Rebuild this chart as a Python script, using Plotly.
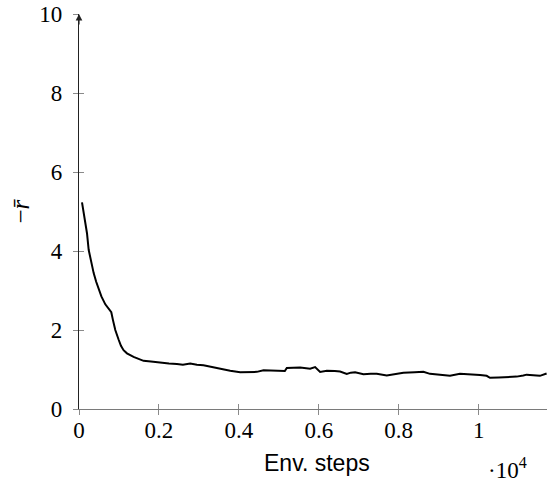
import plotly.graph_objects as go

steps = [75, 120, 158, 200, 242, 300, 367, 430, 492, 560, 658, 740, 808, 850, 908, 990,
         1050, 1115, 1200, 1365, 1615, 1800, 2033, 2250, 2450, 2600, 2783, 2950, 3115,
         3300, 3450, 3600, 3783, 4033, 4283, 4450, 4617, 4800, 5033, 5150, 5200, 5400,
         5533, 5783, 5908, 6033, 6200, 6400, 6533, 6700, 6800, 6908, 7000, 7117, 7300,
         7450, 7700, 7867, 7950, 8117, 8400, 8617, 8783, 9000, 9283, 9533, 9800, 10033,
         10200, 10283, 10500, 10700, 10950, 11117, 11200, 11450, 11533, 11700]
neg_reward = [5.23, 4.95, 4.70, 4.45, 4.03, 3.75, 3.44, 3.22, 3.03, 2.85, 2.65, 2.55, 2.45,
              2.25, 2.00, 1.76, 1.60, 1.49, 1.41, 1.32, 1.22, 1.20, 1.17, 1.15, 1.14, 1.12,
              1.15, 1.12, 1.11, 1.07, 1.03, 1.00, 0.97, 0.93, 0.94, 0.94, 0.98, 0.97, 0.97,
              0.96, 1.04, 1.04, 1.05, 1.02, 1.06, 0.94, 0.97, 0.96, 0.95, 0.89, 0.92, 0.93,
              0.90, 0.88, 0.89, 0.89, 0.85, 0.88, 0.90, 0.92, 0.93, 0.94, 0.89, 0.87, 0.84,
              0.89, 0.88, 0.86, 0.84, 0.79, 0.80, 0.81, 0.82, 0.85, 0.87, 0.85, 0.84, 0.90]

x_tickvals = [0, 2000, 4000, 6000, 8000, 10000]
x_ticktext = ["0", "0.2", "0.4", "0.6", "0.8", "1"]
y_tickvals = [0, 2, 4, 6, 8, 10]
y_ticktext = ["0", "2", "4", "6", "8", "10"]

serif = "'Liberation Serif', 'DejaVu Serif', serif"
sans = "'Liberation Sans', 'DejaVu Sans', sans-serif"
tickcol = "#8a8a8a"

fig = go.Figure()
fig.add_trace(go.Scatter(x=steps, y=neg_reward, mode="lines",
                         line=dict(color="black", width=2), showlegend=False,
                         hoverinfo="skip"))
fig.add_trace(go.Scatter(x=[None], y=[None], xaxis="x2", yaxis="y2",
                         showlegend=False, hoverinfo="skip"))

xr = [0, 11710]
yr = [0, 10]
L, R, T, B = 79, 0, 14, 77
ph = 486 - T - B
pw = 547 - L - R
fig.update_layout(
    width=547, height=486,
    margin=dict(l=L, r=R, t=T, b=B),
    paper_bgcolor="white", plot_bgcolor="white",
    xaxis=dict(range=xr, tickvals=x_tickvals, ticktext=x_ticktext,
               showgrid=False, zeroline=False, showline=True,
               linecolor="#7a7a7a", linewidth=1.2,
               ticks="inside", ticklen=5, tickcolor=tickcol, tickwidth=1,
               tickfont=dict(family=serif, size=23, color="black")),
    yaxis=dict(range=yr, tickvals=y_tickvals, ticktext=y_ticktext,
               showgrid=False, zeroline=False, showline=True,
               linecolor="#222222", linewidth=1.2,
               ticks="outside", ticklen=5, tickcolor=tickcol, tickwidth=1,
               ticklabelstandoff=6,
               tickfont=dict(family=serif, size=23, color="black")),
    xaxis2=dict(range=xr, overlaying="x", tickvals=x_tickvals, showticklabels=False,
                showgrid=False, zeroline=False, showline=False,
                ticks="outside", ticklen=5, tickcolor=tickcol, tickwidth=1),
    yaxis2=dict(range=yr, overlaying="y", tickvals=y_tickvals[1:], showticklabels=False,
                showgrid=False, zeroline=False, showline=False,
                ticks="inside", ticklen=5, tickcolor=tickcol, tickwidth=1),
    annotations=[
        dict(x=0, y=10, xref="x", yref="y", ax=0, ay=12, axref="pixel", ayref="pixel",
             showarrow=True, arrowhead=2, arrowsize=1.1, arrowwidth=1.2,
             arrowcolor="#222222", text=""),
        dict(text="Env. steps", x=(317 - L) / pw, y=-(463 - (486 - B)) / ph,
             xref="paper", yref="paper",
             showarrow=False, font=dict(family=sans, size=23, color="black"),
             xanchor="center", yanchor="middle"),
        dict(text="·10<sup>4</sup>", x=(507 - L) / pw, y=-(469 - (486 - B)) / ph,
             xref="paper", yref="paper",
             showarrow=False, font=dict(family=serif, size=23, color="black"),
             xanchor="center", yanchor="middle"),
        dict(text="−<i>r̄</i>", x=-(79 - 20) / pw, y=0.5, xref="paper", yref="paper",
             textangle=-90, showarrow=False,
             font=dict(family=serif, size=25, color="black"),
             xanchor="center", yanchor="middle"),
    ],
)
fig.write_html("out.html")
